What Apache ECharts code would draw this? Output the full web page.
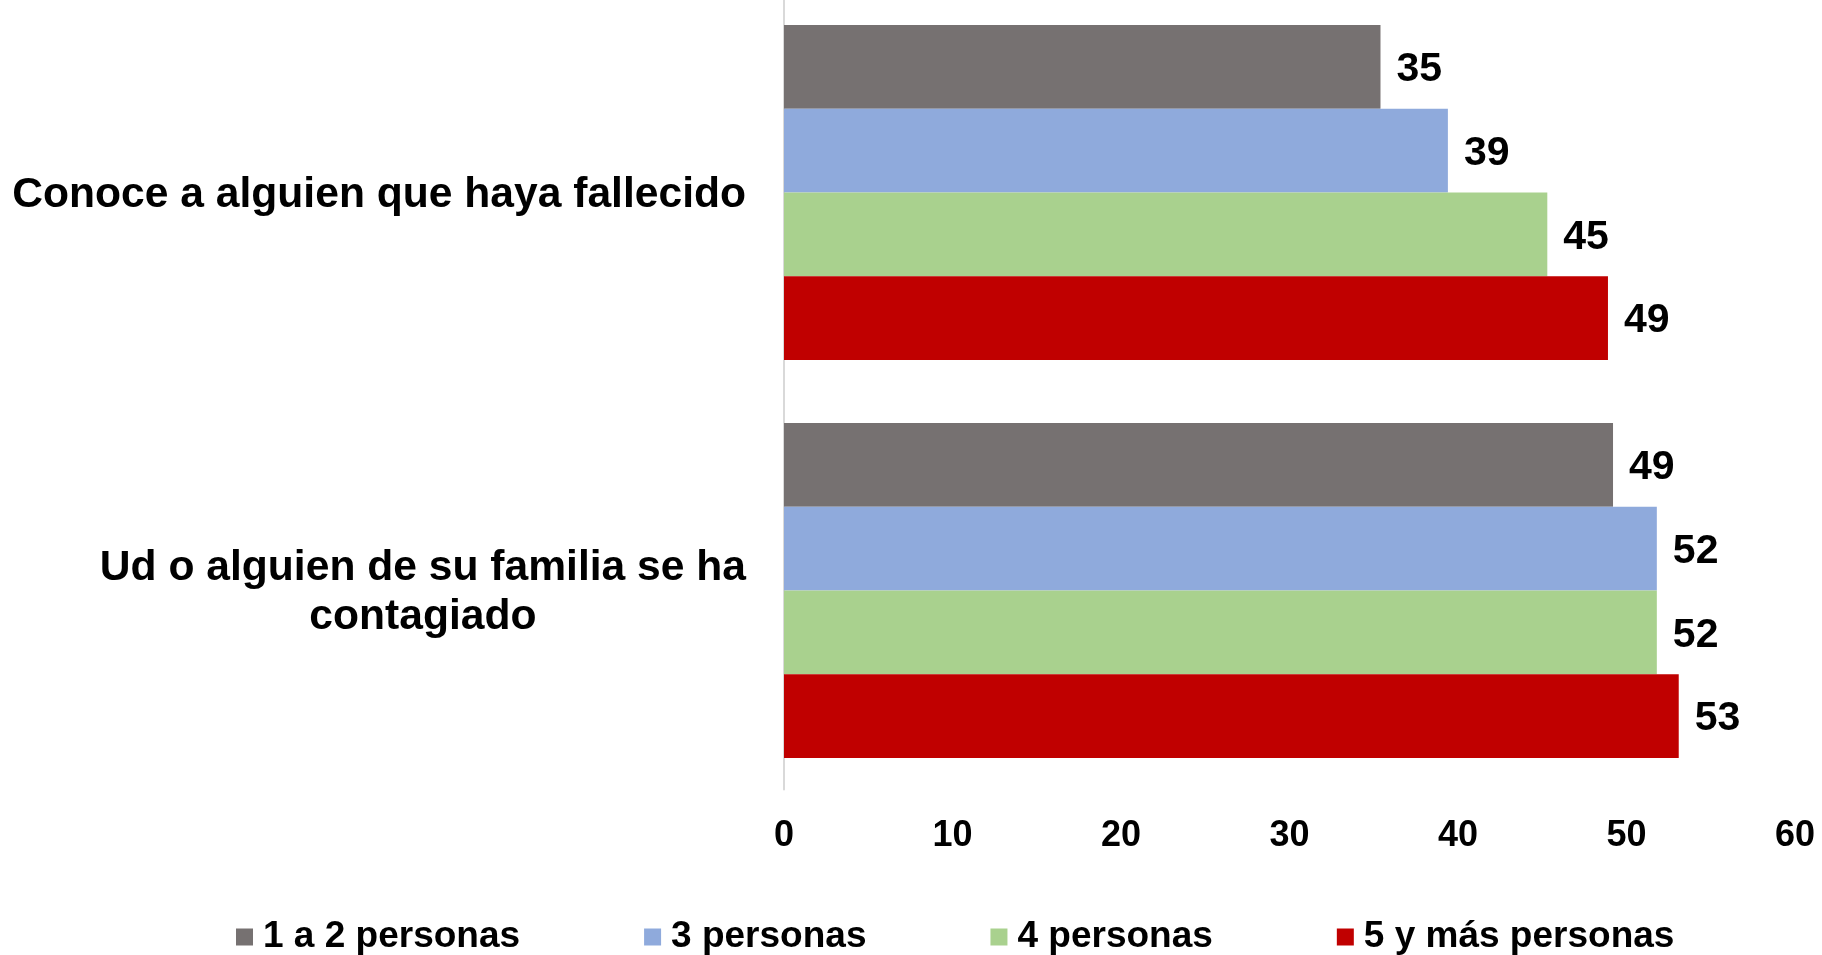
<!DOCTYPE html>
<html>
<head>
<meta charset="utf-8">
<script src="https://cdn.jsdelivr.net/npm/echarts@6/dist/echarts.min.js"></script>
<style>
html,body{margin:0;padding:0;background:#fff;}
#chart{width:1822px;height:955px;}
</style>
</head>
<body>
<div id="chart"></div>
<script>
var categories = ['Conoce a alguien que haya fallecido', 'Ud o alguien de su familia se ha\ncontagiado'];
var seriesNames = ['1 a 2 personas', '3 personas', '4 personas', '5 y más personas'];
var values12 = [35.4, 49.2];
var values3 = [39.4, 51.8];
var values4 = [45.3, 51.8];
var values5 = [48.9, 53.1];
var xTicks = [0, 10, 20, 30, 40, 50, 60];
var colors = ['#767171', '#8FAADC', '#A9D18E', '#C00000'];

var FONT = '"Liberation Sans", Arial, sans-serif';
var allValues = [values12, values3, values4, values5];

var chart = echarts.init(document.getElementById('chart'));
chart.setOption({
  animation: false,
  textStyle: { fontFamily: FONT },
  grid: { left: 784, right: 27, top: -6.5, bottom: 165.5, containLabel: false, outerBoundsMode: 'none' },
  legend: {
    data: seriesNames,
    left: 236,
    top: 918.5,
    padding: 0,
    itemWidth: 17,
    itemHeight: 17,
    itemGap: 124,
    icon: 'rect',
    textStyle: { fontFamily: FONT, fontWeight: 'bold', fontSize: 37, color: '#000', padding: [0, 0, 0, 5] }
  },
  xAxis: {
    type: 'value',
    min: xTicks[0],
    max: xTicks[xTicks.length - 1],
    interval: 10,
    axisLine: { show: false },
    axisTick: { show: false },
    splitLine: { show: false },
    axisLabel: { margin: 28.5, fontFamily: FONT, fontWeight: 'bold', fontSize: 36, color: '#000' }
  },
  yAxis: {
    type: 'category',
    data: categories,
    inverse: true,
    axisLine: { show: true, lineStyle: { color: '#d9d9d9', width: 2 } },
    axisTick: { show: false },
    axisLabel: {
      margin: 38,
      lineHeight: 49,
      padding: [5, 0, 0, 0],
      formatter: function (v) {
        return v.split('\n').map(function (l) { return '{c|' + l + '}'; }).join('\n');
      },
      rich: { c: { align: 'center', fontFamily: FONT, fontWeight: 'bold', fontSize: 42.6, color: '#000', lineHeight: 49 } }
    }
  },
  series: seriesNames.map(function (name, i) {
    return {
      name: name,
      type: 'bar',
      data: allValues[i],
      barGap: '0%',
      barCategoryGap: '15.8%',
      itemStyle: { color: colors[i] },
      label: {
        show: true,
        position: 'right',
        distance: 16,
        offset: [0, 3],
        formatter: function (p) { return Math.round(p.value); },
        fontFamily: FONT, fontWeight: 'bold', fontSize: 41, color: '#000'
      }
    };
  })
});
</script>
</body>
</html>
